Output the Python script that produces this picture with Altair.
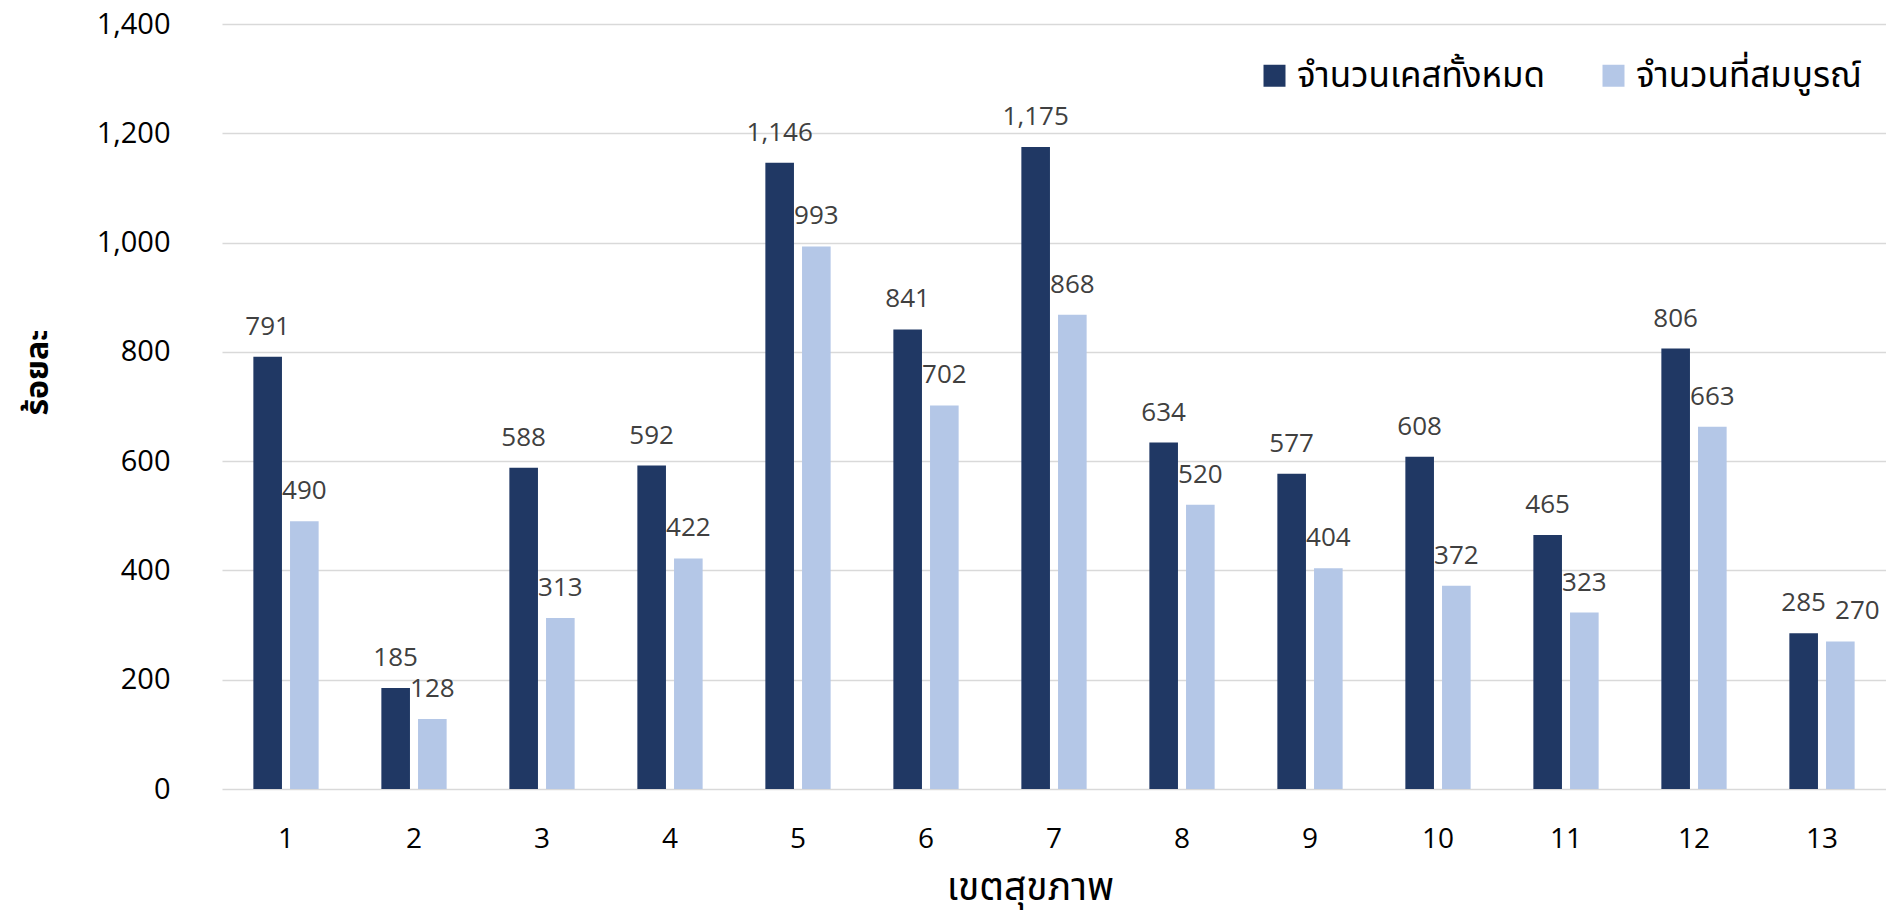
import altair as alt
import pandas as pd

# Health regions and case counts
regions = [str(i) for i in range(1, 14)]
series_names = ["จำนวนเคสทั้งหมด", "จำนวนที่สมบูรณ์"]
total_cases = [791, 185, 588, 592, 1146, 841, 1175, 634, 577, 608, 465, 806, 285]
complete_cases = [490, 128, 313, 422, 993, 702, 868, 520, 404, 372, 323, 663, 270]
series_colors = ["#203864", "#B4C7E7"]

rows = []
for r, t, c in zip(regions, total_cases, complete_cases):
    rows.append({"region": r, "series": series_names[0], "value": t})
    rows.append({"region": r, "series": series_names[1], "value": c})
df = pd.DataFrame(rows)

thai_font = "Noto Sans Thai, Noto Sans Thai UI, Tahoma, Noto Sans, sans-serif"
num_font = "Open Sans"

x_enc = alt.X(
    "region:N",
    sort=regions,
    scale=alt.Scale(paddingInner=0.49, paddingOuter=0.245),
    axis=alt.Axis(
        title="เขตสุขภาพ",
        labelAngle=0,
        domain=False,
        ticks=False,
        grid=False,
        labelPadding=36,
        labelFontSize=28,
        labelFont=num_font,
        labelColor="#000000",
        titleFont=thai_font,
        titleFontSize=39,
        titleFontWeight="normal",
        titleColor="#000000",
        titleX=808,
        titleY=98,
        titleAlign="center",
        titleBaseline="middle",
    ),
)
xoff_enc = alt.XOffset(
    "series:N",
    sort=series_names,
    scale=alt.Scale(paddingInner=0.22),
)
y_enc = alt.Y(
    "value:Q",
    scale=alt.Scale(domain=[0, 1400]),
    axis=alt.Axis(
        title="ร้อยละ",
        values=list(range(0, 1401, 200)),
        format=",d",
        domain=False,
        ticks=False,
        labelPadding=52,
        labelFontSize=29,
        labelFont=num_font,
        labelColor="#000000",
        gridColor="#D9D9D9",
        gridWidth=1.5,
        titleFont=thai_font,
        titleFontSize=32,
        titleFontWeight="bold",
        titleColor="#000000",
        titleX=-185,
        titleY=348,
        titleBaseline="middle",
    ),
)

color_enc = alt.Color(
    "series:N",
    sort=series_names,
    scale=alt.Scale(domain=series_names, range=series_colors),
    legend=alt.Legend(
        title=None,
        orient="none",
        direction="horizontal",
        legendX=1035,
        legendY=34,
        symbolType="square",
        symbolSize=484,
        symbolStrokeWidth=0,
        symbolOpacity=1,
        labelFont=thai_font,
        labelFontSize=35,
        labelFontWeight="normal",
        labelColor="#000000",
        labelOffset=5,
        columnPadding=50,
        labelLimit=400,
    ),
)

base = alt.Chart(df).encode(x=x_enc, xOffset=xoff_enc, y=y_enc)

bars = base.mark_bar(strokeWidth=0).encode(color=color_enc)

label_style = dict(
    baseline="alphabetic",
    dy=-22,
    fontSize=26,
    font=num_font,
    color="#404040",
)
label_text = alt.Text("value:Q", format=",d")

# The last region's two labels would collide, so its second label is nudged right
last_pair = (alt.datum.region == regions[-1]) & (alt.datum.series == series_names[1])

labels = (
    base.mark_text(**label_style)
    .encode(text=label_text)
    .transform_filter(~last_pair)
)
labels_nudged = (
    base.mark_text(dx=17, **label_style)
    .encode(text=label_text)
    .transform_filter(last_pair)
)

chart = (
    alt.layer(bars, labels, labels_nudged)
    .properties(
        width=1664,
        height=765,
        background="#FFFFFF",
        autosize=alt.AutoSizeParams(type="none"),
        padding={"left": 222, "top": 24, "right": 0, "bottom": 125},
    )
    .configure_view(strokeWidth=0)
)

chart.save("out.html", embed_options={"renderer": "svg", "actions": False})
